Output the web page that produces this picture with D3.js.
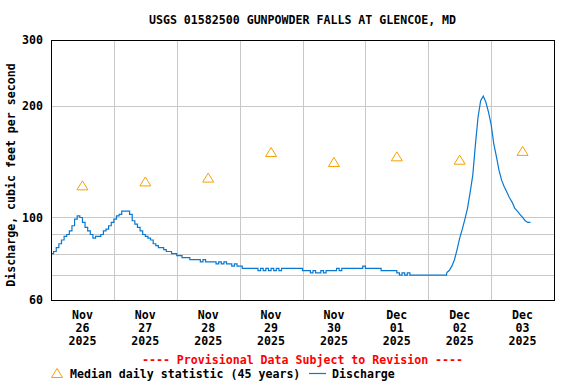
<!DOCTYPE html>
<html>
<head>
<meta charset="utf-8">
<script src="https://cdn.jsdelivr.net/npm/d3@7"></script>
<style>
  body { margin: 0; background: #fff; }
  text { font-family: "DejaVu Sans Mono", "Liberation Mono", monospace; font-weight: bold; font-size: 11.6px; }
</style>
</head>
<body>
<svg id="chart"></svg>
<script>
const title = 'USGS 01582500 GUNPOWDER FALLS AT GLENCOE, MD';
const yLabel = 'Discharge, cubic feet per second';
const provisional = '---- Provisional Data Subject to Revision ----';
const medianLabel = 'Median daily statistic (45 years)';
const dischargeLabel = 'Discharge';

// hourly discharge (cfs), first value at Nov 26 2025 00:00
const dischargeStart = new Date(2025, 10, 26, 0, 0);
const discharge = [
  // Nov 26
  80, 81, 83, 85, 87, 89, 90, 92, 95, 99, 101, 100, 97, 94, 92, 90, 88, 89, 89, 90, 92, 93, 95, 97,
  // Nov 27
  99, 101, 102, 104, 104, 104, 102, 98, 96, 94, 92, 90, 89, 88, 87, 85, 84, 83, 83, 82, 81, 81, 80, 80,
  // Nov 28
  79, 79, 78, 78, 78, 77, 77, 77, 77, 76, 77, 76, 76, 76, 76, 75, 76, 75, 76, 75, 75, 74, 75, 74,
  // Nov 29
  74, 73, 73, 73, 73, 73, 73, 72, 73, 72, 73, 72, 73, 72, 73, 72, 73, 73, 73, 73, 73, 73, 73, 73,
  // Nov 30
  72, 72, 72, 71, 72, 71, 71, 72, 71, 72, 72, 72, 72, 73, 72, 73, 73, 73, 73, 73, 73, 73, 73, 74,
  // Dec 01
  73, 73, 73, 73, 73, 73, 72, 72, 72, 72, 72, 72, 71, 70, 71, 70, 71, 70, 70, 70, 70, 70, 70, 70,
  // Dec 02
  70, 70, 70, 70, 70, 70, 70, 71, 72, 74, 77, 82, 88, 93, 99, 106, 117, 130, 157, 186, 206, 212, 204, 192,
  // Dec 03
  178, 158, 146, 134, 126, 121, 117, 113, 110, 106, 104, 102, 100, 98, 97, 97
];

// median daily statistic, plotted at noon
const medianDays = ['2025-11-26', '2025-11-27', '2025-11-28', '2025-11-29', '2025-11-30', '2025-12-01', '2025-12-02', '2025-12-03'];
const medianValues = [122, 125, 128, 150, 141, 146, 143, 151];

const yTickValues = [60, 100, 200, 300];
const yGridValues = [70, 80, 90, 100, 200];
const months = ['Jan', 'Feb', 'Mar', 'Apr', 'May', 'Jun', 'Jul', 'Aug', 'Sep', 'Oct', 'Nov', 'Dec'];

const width = 576;
const height = 384;
const plot = { left: 51, right: 554, top: 40, bottom: 300 };

const parseDay = (s) => {
  const [yy, mm, dd] = s.split('-').map(Number);
  return new Date(yy, mm - 1, dd);
};

const svg = d3.select('#chart')
  .attr('width', width)
  .attr('height', height);

const x = d3.scaleTime()
  .domain([new Date(2025, 10, 26), new Date(2025, 11, 4)])
  .range([plot.left, plot.right]);

const y = d3.scaleLog()
  .domain([60, 300])
  .range([plot.bottom, plot.top]);

// grid
const dayLines = d3.timeDay.range(new Date(2025, 10, 27), new Date(2025, 11, 4));
svg.append('g')
  .selectAll('line')
  .data(dayLines)
  .join('line')
  .attr('x1', (d) => Math.round(x(d)) + 0.5)
  .attr('x2', (d) => Math.round(x(d)) + 0.5)
  .attr('y1', plot.top)
  .attr('y2', plot.bottom)
  .attr('stroke', '#c8c8c8');

svg.append('g')
  .selectAll('line')
  .data(yGridValues)
  .join('line')
  .attr('x1', plot.left)
  .attr('x2', plot.right)
  .attr('y1', (d) => Math.round(y(d)) + 0.5)
  .attr('y2', (d) => Math.round(y(d)) + 0.5)
  .attr('stroke', '#c8c8c8');

// discharge line
const points = discharge.map((v, i) => ({ t: d3.timeHour.offset(dischargeStart, i), v }));
const line = d3.line()
  .x((d) => x(d.t))
  .y((d) => y(d.v))
  .curve(d3.curveStepAfter);

svg.append('path')
  .datum(points.slice(0, 152))
  .attr('d', line)
  .attr('fill', 'none')
  .attr('stroke', '#0a78cf')
  .attr('stroke-width', 1.2);

// steep part of the storm peak: straight segments between readings
svg.append('path')
  .datum(points.slice(151))
  .attr('d', line.curve(d3.curveLinear))
  .attr('fill', 'none')
  .attr('stroke', '#0a78cf')
  .attr('stroke-width', 1.2);

// median triangles
const triangle = 'M0,-4.5L5.5,4.5L-5.5,4.5Z';
svg.append('g')
  .selectAll('path')
  .data(medianDays.map((d, i) => ({ t: d3.timeHour.offset(parseDay(d), 12), v: medianValues[i] })))
  .join('path')
  .attr('d', triangle)
  .attr('transform', (d) => `translate(${x(d.t)},${y(d.v)})`)
  .attr('fill', 'none')
  .attr('stroke', '#f7a000')
  .attr('stroke-width', 1);

// frame
svg.append('rect')
  .attr('x', plot.left + 0.5)
  .attr('y', plot.top + 0.5)
  .attr('width', plot.right - plot.left)
  .attr('height', plot.bottom - plot.top)
  .attr('fill', 'none')
  .attr('stroke', '#000');

// y ticks
svg.append('g')
  .selectAll('text')
  .data(yTickValues)
  .join('text')
  .attr('x', 43)
  .attr('y', (d) => y(d))
  .attr('dy', '0.36em')
  .attr('text-anchor', 'end')
  .text((d) => d);

// x day labels
const labelDays = d3.timeDay.range(new Date(2025, 10, 26), new Date(2025, 11, 4));
const xLabels = svg.append('g')
  .selectAll('text')
  .data(labelDays)
  .join('text')
  .attr('text-anchor', 'middle')
  .attr('transform', (d) => `translate(${x(d3.timeHour.offset(d, 12))},0)`);
xLabels.append('tspan').attr('x', 0).attr('y', 318.5).text((d) => months[d.getMonth()]);
xLabels.append('tspan').attr('x', 0).attr('y', 331.5).text((d) => String(d.getDate()).padStart(2, '0'));
xLabels.append('tspan').attr('x', 0).attr('y', 344.5).text((d) => d.getFullYear());

// titles
svg.append('text')
  .attr('x', (plot.left + plot.right) / 2)
  .attr('y', 24)
  .attr('text-anchor', 'middle')
  .text(title);

svg.append('text')
  .attr('transform', `translate(15,175) rotate(-90)`)
  .attr('text-anchor', 'middle')
  .text(yLabel);

svg.append('text')
  .attr('x', (plot.left + plot.right) / 2)
  .attr('y', 363.5)
  .attr('text-anchor', 'middle')
  .attr('fill', '#ff0000')
  .text(provisional);

// legend
svg.append('path')
  .attr('d', triangle)
  .attr('transform', 'translate(57,373)')
  .attr('fill', 'none')
  .attr('stroke', '#f7a000')
  .attr('stroke-width', 1);
svg.append('text').attr('x', 70).attr('y', 377.5).text(medianLabel);
svg.append('line')
  .attr('x1', 309).attr('x2', 326)
  .attr('y1', 373.5).attr('y2', 373.5)
  .attr('stroke', '#0a78cf')
  .attr('stroke-width', 1.2);
svg.append('text').attr('x', 332).attr('y', 377.5).text(dischargeLabel);
</script>
</body>
</html>
